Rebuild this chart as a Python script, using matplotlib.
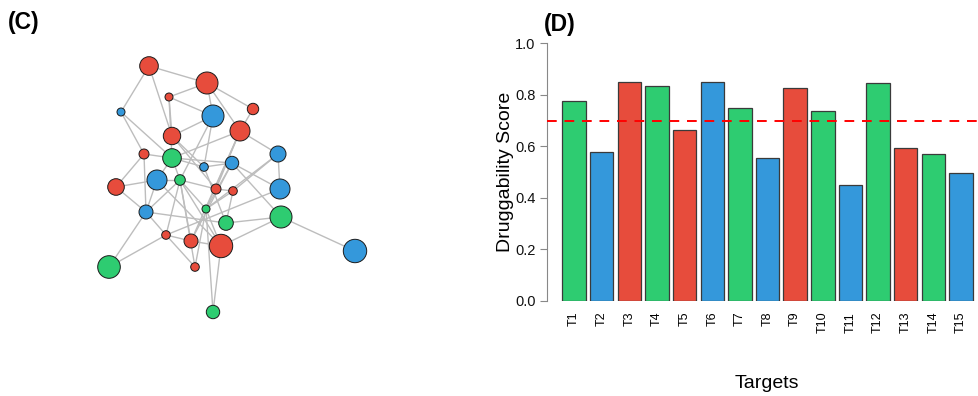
import matplotlib
matplotlib.use("Agg")
import matplotlib.pyplot as plt
from matplotlib.patches import Circle

plt.rcParams['font.family'] = ['Liberation Sans', 'DejaVu Sans']

RED = '#e74c3c'
BLUE = '#3498db'
GREEN = '#2ecc71'
cmap = {'r': RED, 'b': BLUE, 'g': GREEN}

# ---- panel C: network (layout, pixel units) ----
node_x = [149, 207, 169, 121, 213, 253, 240, 172, 144, 172,
          278, 204, 232, 116, 157, 180, 216, 233, 280, 146,
          206, 226, 281, 166, 191, 221, 355, 109, 195, 213]
node_y = [66, 83, 97, 112, 116, 109, 131, 136, 154, 158,
          154, 167, 163, 187, 180, 180, 189, 191, 189, 212,
          209, 223, 217, 235, 241, 246, 251, 267, 267, 312]
node_r = [9.3, 11, 4, 4, 11, 5.7, 10, 8.7, 5, 9.3,
          8, 4.3, 6.7, 8.3, 10, 5.3, 5, 4.3, 10, 7,
          4, 7.3, 11, 4.3, 7, 11.7, 11.7, 11.3, 4.3, 6.7]
node_col = ['r', 'r', 'r', 'b', 'b', 'r', 'r', 'r', 'r', 'g',
            'b', 'b', 'b', 'r', 'b', 'g', 'r', 'r', 'b', 'b',
            'g', 'g', 'g', 'r', 'r', 'r', 'b', 'g', 'r', 'g']
edges = [(1, 2), (1, 4), (1, 8), (2, 3), (2, 5), (2, 6), (2, 7), (3, 5),
         (3, 8), (3, 10), (4, 9), (4, 10), (5, 8), (5, 12), (5, 16), (6, 7),
         (7, 11), (7, 10), (7, 17), (7, 21), (7, 25), (8, 12), (9, 10),
         (9, 20), (9, 14), (10, 13), (10, 15), (10, 16), (11, 19), (11, 18),
         (12, 13), (12, 22), (13, 19), (13, 23), (13, 21), (13, 25),
         (14, 15), (14, 20), (15, 16), (15, 20), (16, 17), (16, 21),
         (16, 25), (16, 26), (16, 29), (16, 24), (16, 20), (17, 18),
         (18, 21), (18, 22), (19, 24), (20, 22), (20, 24), (20, 28),
         (21, 26), (21, 29), (21, 30), (22, 23), (23, 26), (23, 27),
         (24, 25), (24, 28), (24, 29), (25, 26), (26, 30), (8, 17),
         (11, 21), (15, 26), (10, 12)]

# ---- panel D: druggability bars ----
targets = ['T%d' % i for i in range(1, 16)]
scores = [0.776, 0.578, 0.850, 0.833, 0.662, 0.851, 0.747, 0.554,
          0.826, 0.737, 0.448, 0.846, 0.593, 0.570, 0.497]
bar_col = ['g', 'b', 'r', 'g', 'r', 'b', 'g', 'b', 'r', 'g',
           'b', 'g', 'r', 'g', 'b']
threshold = 0.7

W, H = 979, 396
fig = plt.figure(figsize=(W / 100, H / 100), dpi=100)

# network axes, 1 data unit = 1 pixel
axn = fig.add_axes([0, 0, 480 / W, 1])
axn.set_xlim(0, 480)
axn.set_ylim(H, 0)
axn.axis('off')
for a, b in edges:
    axn.plot([node_x[a - 1], node_x[b - 1]], [node_y[a - 1], node_y[b - 1]],
             color='#bdbdbd', lw=1.0, zorder=1)
for x, y, r, c in zip(node_x, node_y, node_r, node_col):
    axn.add_patch(Circle((x, y), r, facecolor=cmap[c], edgecolor='#1a1a1a',
                         lw=0.7, zorder=2))

fig.text(8 / W, 1 - 23 / H, '(C)', fontsize=16.5, fontweight='bold',
         va='center', ha='left')
fig.text(544 / W, 1 - 24 / H, '(D)', fontsize=16.5, fontweight='bold',
         va='center', ha='left')

# bar axes
ax = fig.add_axes([546.7 / W, 95.3 / H, (W - 546.7) / W, 257.4 / H])
pos = list(range(len(targets)))
ax.bar(pos, scores, width=0.847, color=[cmap[c] for c in bar_col],
       edgecolor='#3a3a3a', linewidth=0.9, zorder=2)
ax.axhline(threshold, color='red', ls=(0, (5, 4)), lw=1.4, zorder=3)
ax.set_xlim(-0.99, 14.65)
ax.set_ylim(0, 1)
for s in ['top', 'right', 'bottom']:
    ax.spines[s].set_visible(False)
ax.spines['left'].set_bounds(0, 1)
ax.spines['left'].set_color('#888888')
ax.set_yticks([0, 0.2, 0.4, 0.6, 0.8, 1.0])
ax.set_yticklabels(['0.0', '0.2', '0.4', '0.6', '0.8', '1.0'], fontsize=10.5)
ax.tick_params(axis='y', length=5, color='#888888', pad=3, labelcolor='#111111')
ax.set_xticks(pos)
ax.set_xticklabels(targets, rotation=90, fontsize=9, va='top')
ax.tick_params(axis='x', length=0, pad=8)
ax.set_ylabel('Druggability Score', fontsize=14, labelpad=1)

fig.text(767 / W, 1 - 383 / H, 'Targets', fontsize=14, ha='center', va='center')

fig.savefig('out.png', dpi=100)
